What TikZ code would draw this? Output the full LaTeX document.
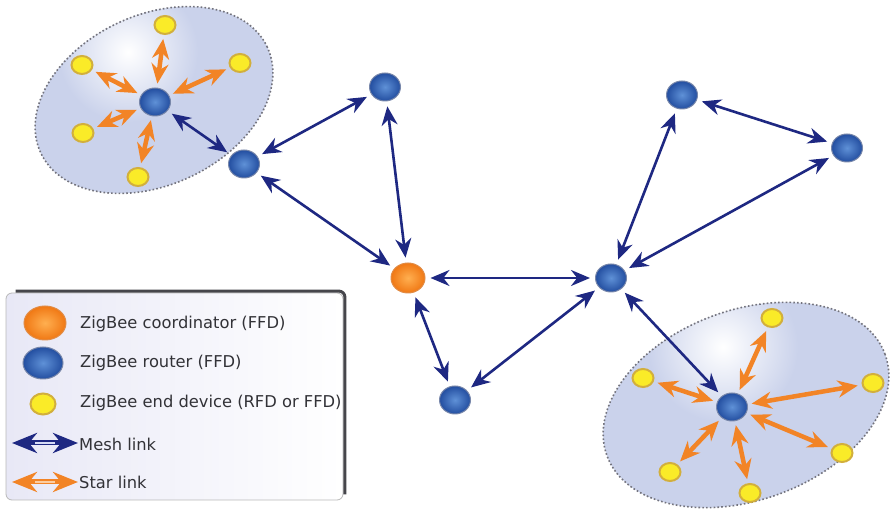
\documentclass[tikz,border=0pt]{standalone}
\usepackage{fontspec}
\setmainfont{DejaVu Sans}
\usetikzlibrary{arrows.meta,shapes.geometric}
\definecolor{meshblue}{RGB}{30,40,130}
\definecolor{meshlight}{RGB}{215,220,245}
\definecolor{starorange}{RGB}{242,132,38}
\definecolor{starlight}{RGB}{252,205,160}
\definecolor{routerin}{RGB}{95,145,215}
\definecolor{routerout}{RGB}{35,78,160}
\definecolor{routerrim}{RGB}{120,135,170}
\definecolor{coordin}{RGB}{255,175,80}
\definecolor{coordout}{RGB}{240,120,20}
\definecolor{coordrim}{RGB}{225,140,70}
\definecolor{devyellow}{RGB}{250,235,40}
\definecolor{devring}{RGB}{210,175,60}
\definecolor{clusterfill}{RGB}{202,210,235}
\definecolor{clusterline}{RGB}{115,115,125}
\definecolor{legendtext}{RGB}{50,50,55}
\definecolor{legendbg}{RGB}{232,232,246}
\definecolor{shadowgray}{RGB}{70,70,75}
\begin{document}
\begin{tikzpicture}[x=1pt,y=1pt,
  router/.style={ellipse,minimum width=31pt,minimum height=28pt,inner sep=0pt,draw=routerrim,line width=1pt,inner color=routerin,outer color=routerout},
  coordinator/.style={ellipse,minimum width=34pt,minimum height=30pt,inner sep=0pt,draw=coordrim,line width=1pt,inner color=coordin,outer color=coordout},
  enddev/.style={ellipse,minimum width=21pt,minimum height=18pt,inner sep=0pt,fill=devyellow,draw=devring,line width=2pt},
  mesh/.style={draw=meshblue,line width=2.6pt,{Stealth[length=19pt,width=16pt]}-{Stealth[length=19pt,width=16pt]},shorten <=5pt,shorten >=5pt},
  starlink/.style={draw=starorange,line width=4.5pt,{Stealth[length=20pt,width=17pt]}-{Stealth[length=20pt,width=17pt]},shorten <=4pt,shorten >=4pt},
  legendtxt/.style={anchor=west,inner sep=0pt,font=\fontsize{16.3}{18}\selectfont,text=legendtext},
  clusterborder/.style={draw=clusterline,line width=1.6pt,dash pattern=on 1.6pt off 2.2pt},
]
\useasboundingbox (0,0) rectangle (891,510);
\fill[white] (0,0) rectangle (891,510);

% clusters
\begin{scope}
\clip[rotate around={25:(154,410)}] (154,410) ellipse [x radius=125, y radius=85];
\fill[clusterfill] (0,290) rectangle (300,510);
\shade[inner color=white, outer color=clusterfill] (128,458) circle (70);
\end{scope}
\draw[clusterborder, rotate around={25:(154,410)}] (154,410) ellipse [x radius=125, y radius=85];

\begin{scope}
\clip[rotate around={20:(746,105)}] (746,105) ellipse [x radius=148, y radius=95];
\fill[clusterfill] (580,0) rectangle (891,230);
\shade[inner color=white, outer color=clusterfill] (723,163) circle (75);
\end{scope}
\draw[clusterborder, rotate around={20:(746,105)}] (746,105) ellipse [x radius=148, y radius=95];

% nodes
\node[router] (rA) at (155,408) {};
\node[router] (rB) at (244,346) {};
\node[router] (rC) at (385,423) {};
\node[coordinator] (co) at (408,232) {};
\node[router] (rD) at (455,110) {};
\node[router] (rE) at (611,232) {};
\node[router] (rF) at (682,415) {};
\node[router] (rG) at (847,362) {};
\node[router] (rH) at (732,103) {};

\node[enddev] (a1) at (165,485) {};
\node[enddev] (a2) at (82,445) {};
\node[enddev] (a3) at (240,447) {};
\node[enddev] (a4) at (83,377) {};
\node[enddev] (a5) at (138,333) {};

\node[enddev] (b1) at (772,192) {};
\node[enddev] (b2) at (643,132) {};
\node[enddev] (b3) at (873,127) {};
\node[enddev] (b4) at (670,38) {};
\node[enddev] (b5) at (750,17) {};
\node[enddev] (b6) at (842,57) {};

% mesh links
\draw[mesh] (rA) -- (rB);
\draw[mesh] (rB) -- (rC);
\draw[mesh] (rB) -- (co);
\draw[mesh] (rC) -- (co);
\draw[mesh] (co) -- (rE);
\draw[mesh] (co) -- (rD);
\draw[mesh] (rD) -- (rE);
\draw[mesh] (rE) -- (rF);
\draw[mesh] (rE) -- (rG);
\draw[mesh] (rF) -- (rG);
\draw[mesh] (rE) -- (rH);

% star links
\foreach \d in {a1,a2,a3,a4,a5} \draw[starlink] (rA) -- (\d);
\foreach \d in {b1,b2,b3,b4,b5,b6} \draw[starlink] (rH) -- (\d);

% legend
\node[draw=gray!55, line width=0.8pt, rounded corners=6pt, left color=legendbg, right color=white,
      minimum width=337pt, minimum height=207pt, inner sep=0pt] (legend) at (174.5,113.5) {};
\draw[shadowgray, line width=3pt, rounded corners=6pt]
  ([xshift=10pt,yshift=1.5pt]legend.north west) -- ([xshift=1.5pt,yshift=1.5pt]legend.north east)
  -- ([xshift=1.5pt,yshift=6pt]legend.south east);

\node[coordinator, minimum width=42pt, minimum height=34pt] (lc) at (45,187) {};
\node[legendtxt] (lct) at (80,186) {ZigBee coordinator (FFD)};
\node[router, minimum width=40pt, minimum height=32pt] (lr) at (43,147) {};
\node[legendtxt] (lrt) at (80,147) {ZigBee router (FFD)};
\node[enddev, minimum width=25pt, minimum height=21pt] (ld) at (43,106) {};
\node[legendtxt] (ldt) at (80,107) {ZigBee end device (RFD or FFD)};

\coordinate (m1) at (12,67);
\coordinate (m2) at (78,67);
\draw[meshblue, line width=5pt, {Stealth[length=25pt,width=20pt]}-{Stealth[length=25pt,width=20pt]}] (m1) -- (m2);
\draw[meshlight, line width=2.5pt] ([xshift=23pt]m1) -- ([xshift=-23pt]m2);
\node[legendtxt] (lmt) at (79,66) {Mesh link};

\coordinate (s1) at (12,28);
\coordinate (s2) at (78,28);
\draw[starorange, line width=5pt, {Stealth[length=25pt,width=20pt]}-{Stealth[length=25pt,width=20pt]}] (s1) -- (s2);
\draw[starlight, line width=2.5pt] ([xshift=23pt]s1) -- ([xshift=-23pt]s2);
\node[legendtxt] (lst) at (79,28) {Star link};
\end{tikzpicture}
\end{document}
